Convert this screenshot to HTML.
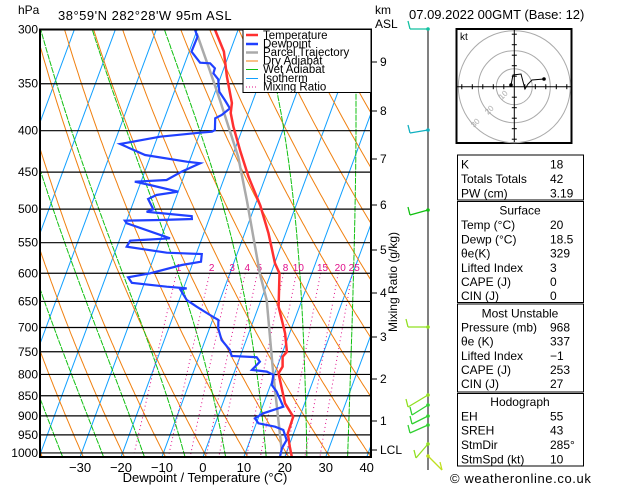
<!DOCTYPE html>
<html><head><meta charset="utf-8">
<style>
html,body{margin:0;padding:0;background:#fff;}
svg{display:block;font-family:"Liberation Sans",sans-serif;}
</style></head>
<body>
<svg id="chart" width="629" height="486" viewBox="0 0 629 486" xmlns="http://www.w3.org/2000/svg">
<defs><clipPath id="plotclip"><rect x="40" y="29.5" width="331" height="427.5"/></clipPath></defs>
<rect x="0" y="0" width="629" height="486" fill="#fff"/>
<g id="bg" clip-path="url(#plotclip)"></g>
<g id="plines"></g>
<g id="series" clip-path="url(#plotclip)"></g>
<rect x="40" y="29.5" width="331" height="427.5" fill="none" stroke="#000" stroke-width="2"/>
<g id="axes" font-size="12"></g>
<text x="18" y="14" font-size="12">hPa</text>
<text x="58" y="20" font-size="13" letter-spacing="0.5">38°59'N  282°28'W  95m  ASL</text>
<text x="375" y="14" font-size="12">km</text>
<text x="375" y="28" font-size="12">ASL</text>
<text x="205" y="482" font-size="13" text-anchor="middle">Dewpoint / Temperature (°C)</text>
<text transform="translate(397,282) rotate(-90)" font-size="12" text-anchor="middle">Mixing Ratio (g/kg)</text>
<g>
<rect x="243" y="29.5" width="128" height="63" fill="#fff" stroke="#000" stroke-width="1"/>
<g font-size="11.5">
<line x1="246" y1="35" x2="258" y2="35" stroke="#ff3030" stroke-width="2.5"/><text x="263" y="39">Temperature</text>
<line x1="246" y1="44" x2="258" y2="44" stroke="#2040ff" stroke-width="2.5"/><text x="263" y="47.5">Dewpoint</text>
<line x1="246" y1="52.5" x2="258" y2="52.5" stroke="#aaa" stroke-width="2.5"/><text x="263" y="56">Parcel Trajectory</text>
<line x1="246" y1="61" x2="258" y2="61" stroke="#f08010" stroke-width="1"/><text x="263" y="64.5">Dry Adiabat</text>
<line x1="246" y1="69.5" x2="258" y2="69.5" stroke="#10c010" stroke-width="1"/><text x="263" y="73">Wet Adiabat</text>
<line x1="246" y1="78.5" x2="258" y2="78.5" stroke="#10a0ff" stroke-width="1"/><text x="263" y="82">Isotherm</text>
<line x1="246" y1="87" x2="258" y2="87" stroke="#e0108a" stroke-width="1" stroke-dasharray="1,2"/><text x="263" y="90.5">Mixing Ratio</text>
</g></g>
<text x="409" y="19" font-size="13">07.09.2022 00GMT (Base: 12)</text>
<g id="wind">
<line x1="428" y1="29" x2="428" y2="470" stroke="#000" stroke-width="1"/>
</g>
<g id="hodo">
<rect x="456.5" y="29" width="115" height="114" fill="#fff" stroke="#000" stroke-width="2"/>
<text x="460" y="40" font-size="10">kt</text>
</g>
<g id="table" font-size="12"></g>
<text x="450" y="483" font-size="13" letter-spacing="0.6">© weatheronline.co.uk</text>
</svg>
<script>
const tempP=[300,319.5,343,369.7,380.4,395.5,424.7,455.9,495,535.5,583.3,600,659.8,711.7,750,760.7,782.6,797.4,868.4,902,945.7,982.4,1011];
const tempT=[-35.7,-31.5,-28.5,-24.9,-24.3,-22.4,-18.4,-14.2,-8.7,-4.2,0.1,2.1,4.9,8.9,11.0,10.4,11.3,10.9,15.2,18.4,18.6,20.3,21.7];
const dewP=[300.4,306.2,319.5,329.7,330.3,335,339.8,345.6,358.1,366.6,375.4,382.6,386.2,399.3,401.2,402.3,406.9,415.5,428.7,436.9,438.9,449.5,460.2,462.5,466.8,475.8,480.3,485.8,500.2,503.7,506,509.9,514.2,515.7,516.7,520.5,543.2,545.8,546.9,556.4,565.9,568,580.6,586.1,600,606.9,616.4,623.4,626.3,628,647.5,659.8,675.5,685.2,701.6,725.3,746.1,759,761.8,771.4,789.8,793.6,801.1,824.2,840,876.9,893.4,906.2,919.2,928.1,936.9,963.8,986.8,1010.7];
const dewT=[-40.5,-39.3,-39.4,-36.3,-33.8,-32.2,-32.1,-30.4,-29.0,-26.9,-24.9,-26.3,-27.6,-26.6,-27.2,-30.0,-39.4,-48.5,-41.4,-30.6,-27.2,-31.0,-33.9,-41.5,-37.5,-30.0,-35.0,-36.7,-34.5,-35.9,-31.7,-24.5,-24.2,-31.9,-40.4,-39.7,-27.8,-34.6,-37.3,-37.6,-27.3,-18.6,-18.1,-22.5,-29.5,-34.5,-33.1,-24.2,-19.2,-20.7,-18.1,-15.1,-11.1,-8.6,-7.9,-6.0,-3.1,-2.1,4.1,5.3,4.1,7.9,9.8,10.3,12.1,15.1,10.8,9.2,10.5,14.9,17.2,18.9,18.5,18.8];
const parcelP=[303.3,333.5,366.6,430.8,487.2,600,647.5,797.4,991.6];
const parcelT=[-39.8,-33.9,-28.1,-18.5,-12.5,-2.7,1.4,9.6,18.6];
const pressureTicks=[300,350,400,450,500,550,600,650,700,750,800,850,900,950,1000];
const tempTicks=[-30,-20,-10,0,10,20,30,40];
const mixRatios=[1,2,3,4,5,8,10,15,20,25];
const kmTicks=[["9",62],["8",111],["7",159],["6",205],["5",250],["4",293],["3",337],["2",379],["1",421],["LCL",450]];
const tableRows=[
 ["K","18"],["Totals Totals","42"],["PW (cm)","3.19"],
 ["#Surface"],["Temp (°C)","20"],["Dewp (°C)","18.5"],["θe(K)","329"],["Lifted Index","3"],["CAPE (J)","0"],["CIN (J)","0"],
 ["#Most Unstable"],["Pressure (mb)","968"],["θe (K)","337"],["Lifted Index","−1"],["CAPE (J)","253"],["CIN (J)","27"],
 ["#Hodograph"],["EH","55"],["SREH","43"],["StmDir","285°"],["StmSpd (kt)","10"]];
const NS="http://www.w3.org/2000/svg";
function yP(p){return 29.5+351.7*Math.log(p/300);}
function xT(T,p){return 202.9+4.095*T+0.37*(457-yP(p));}
function mk(tag,attrs,parent){const e=document.createElementNS(NS,tag);for(const k in attrs)e.setAttribute(k,attrs[k]);parent.appendChild(e);return e;}
const bg=document.getElementById('bg'),series=document.getElementById('series'),axes=document.getElementById('axes'),pl=document.getElementById('plines');
function poly(pts,stroke,w,parent,dash,name){const e=mk('polyline',{points:pts.map(q=>q[0].toFixed(1)+','+q[1].toFixed(1)).join(' '),fill:'none',stroke:stroke,'stroke-width':w},parent);if(dash)e.setAttribute('stroke-dasharray',dash);


return e;}
const pgrid=[];for(let p=290;p<=1030;p+=5)pgrid.push(p);
for(let T=-110;T<=40;T+=10){poly([[xT(T,1030),yP(1030)],[xT(T,280),yP(280)]],'#10a0ff',1,bg,null,'isotherm');}
for(let t=-60;t<=150;t+=10){const th=t+273.15;poly(pgrid.map(p=>[xT(th*Math.pow(p/1000,0.2857)-273.15,p),yP(p)]),'#f08010',1,bg,null,'dry-adiabat');}
function es(T){return 6.112*Math.exp(17.67*T/(T+243.5));}
function dTdlnp(Tc,p){const T=Tc+273.15,e=es(Tc),rs=0.622*e/(p-e);return (287*T+2.5e6*rs)/(1004+2.5e6*2.5e6*rs*0.622/(287*T*T));}
for(let t0=-35;t0<=45;t0+=10){const pts=[];let T=t0,p=1030;
 let Tb=t0;for(let q=1000;q<1030;q+=1){Tb+=dTdlnp(Tb,q)*Math.log((q+1)/q);} T=Tb;
 for(p=1030;p>=280;p-=2){pts.push([xT(T,p),yP(p)]);T-=dTdlnp(T,p)*Math.log(p/(p-2));}
 poly(pts,'#10c010',1,bg,'6,1','wet-adiabat');}
mixRatios.forEach(w=>{const pts=[];for(let p=600;p<=1030;p+=10){const e=(w/1000)*p/(0.622+w/1000),l=Math.log(e/6.112),T=243.5*l/(17.67-l);pts.push([xT(T,p),yP(p)]);}
 poly(pts,'#e0108a',1,bg,'1,3','mixing-ratio-line');
 const e6=(w/1000)*600/(0.622+w/1000),l6=Math.log(e6/6.112),T6=243.5*l6/(17.67-l6);
 const t=mk('text',{x:xT(T6,600)+2,y:271,'font-size':10,fill:'#e0108a','text-anchor':'middle'},bg);t.textContent=w;
 
 });
pressureTicks.forEach(p=>{const y=yP(p);const l=mk('line',{x1:40,x2:371,y1:y,y2:y,stroke:'#000','stroke-width':1.2},pl);
 
 
 const t=mk('text',{x:38,y:y+4,'text-anchor':'end'},axes);t.textContent=p;
 
 });
tempTicks.forEach(T=>{const x=202.9+4.095*T;const t=mk('text',{x:x,y:472,'text-anchor':'middle','font-size':13},axes);t.textContent=(T<0?'−'+(-T):T);
 
 });
kmTicks.forEach(k=>{const l=mk('line',{x1:371,x2:377,y1:k[1],y2:k[1],stroke:'#000'},axes);
 
 
 const t=mk('text',{x:380,y:k[1]+4},axes);t.textContent=k[0];
 
 });
poly(parcelP.map((p,i)=>[xT(parcelT[i],p),yP(p)]),'#aaa',2.5,series,null,'parcel-trajectory-line');
poly(dewP.map((p,i)=>[xT(dewT[i],p),yP(p)]),'#2040ff',2.2,series,null,'dewpoint-line');
poly(tempP.map((p,i)=>[xT(tempT[i],p),yP(p)]),'#ff3030',2.5,series,null,'temperature-line');
const wind=document.getElementById('wind');
const barbs=[[29,'#10c0a0',-18,0],[130,'#10b0c0',-18,3],[210,'#10c010',-18,5],[327,'#90e020',-20,0],[395,'#90e020',-20,12],[405,'#30d030',-16,10],[416,'#30d030',-16,8],[425,'#30d030',-18,8],[444,'#90e020',-12,14],[456,'#c0e020',14,14]];
barbs.forEach(b=>{const g=mk('g',{},wind);
 mk('line',{x1:428,y1:b[0],x2:428+b[2],y2:b[0]+b[3],stroke:b[1],'stroke-width':1.3},g);
 mk('line',{x1:428+b[2],y1:b[0]+b[3],x2:428+b[2]-2,y2:b[0]+b[3]-8,stroke:b[1],'stroke-width':1.3},g);
 mk('circle',{cx:428,cy:b[0],r:1.8,fill:b[1]},g);});
const hodo=document.getElementById('hodo');const cx=514.3,cy=86.7;
[18,36,56].forEach(r=>mk('circle',{cx:cx,cy:cy,r:r,fill:'none',stroke:'#aaa','stroke-width':1},hodo));
mk('line',{x1:457,x2:571,y1:cy,y2:cy,stroke:'#000'},hodo);mk('line',{x1:cx,x2:cx,y1:30,y2:142,stroke:'#000'},hodo);
for(let i=-5;i<=5;i++){if(!i)continue;mk('line',{x1:cx+i*10.5,x2:cx+i*10.5,y1:cy-2.5,y2:cy+2.5,stroke:'#000'},hodo);mk('line',{y1:cy+i*10.5,y2:cy+i*10.5,x1:cx-2.5,x2:cx+2.5,stroke:'#000'},hodo);}
poly([[544,79],[532,80],[528,84],[525,89],[521,74],[513,75],[511,85]],'#000',1,hodo,null,'hodograph-trace');
mk('circle',{cx:544,cy:79,r:1.8,fill:'#000'},hodo);mk('circle',{cx:511,cy:85,r:1.8,fill:'#000'},hodo);
[['10',502,100],['20',488,115],['30',474,128]].forEach(a=>{const t=mk('text',{x:a[1],y:a[2],'font-size':8,fill:'#aaa',transform:`rotate(-45 ${a[1]} ${a[2]})`},hodo);t.textContent=a[0];});
const table=document.getElementById('table');
[[155,200],[201.5,302.5],[304,392],[393.5,466]].forEach(s=>{const r=mk('rect',{x:457.5,y:s[0],width:126,height:s[1]-s[0],fill:'#fff',stroke:'#000','stroke-width':1},table);
 
 });
const ys=[164.5,179,193.5,210.5,225,239.5,253.5,268,282,296,313.5,327.5,341.5,356,370,384,402,416.5,430.5,445,459.5];
tableRows.forEach((r,i)=>{const y=ys[i]+4;
 if(r[0][0]==='#'){const t=mk('text',{x:520,y:y,'text-anchor':'middle'},table);t.textContent=r[0].slice(1);
  
  return;}
 const a=mk('text',{x:461,y:y},table);a.textContent=r[0];
 
 
 const b=mk('text',{x:550,y:y},table);b.textContent=r[1];
 
 });
</script>
</body></html>
